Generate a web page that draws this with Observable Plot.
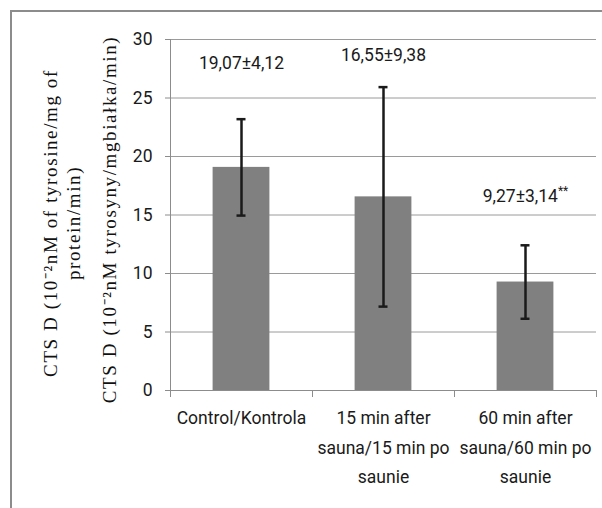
<!DOCTYPE html>
<html><head><meta charset="utf-8">
<script src="https://cdn.jsdelivr.net/npm/d3@7"></script>
<script src="https://cdn.jsdelivr.net/npm/@observablehq/plot@0.6"></script>
<style>
html,body{margin:0;padding:0;background:#fff;}
#wrap{position:relative;width:602px;height:508px;overflow:hidden;}
#border{position:absolute;left:10px;top:10px;width:700px;height:700px;border-top:2px solid #8c8c8c;border-left:2px solid #8c8c8c;pointer-events:none;}
</style></head><body><div id="wrap"><div id="border"></div></div>
<script>
// ---- data ----
const categories = ["Control/Kontrola", "15 min after\nsauna/15 min po\nsaunie", "60 min after\nsauna/60 min po\nsaunie"];
const means = [19.07, 16.55, 9.27];
const sds = [4.12, 9.38, 3.14];
const valueLabels = ["19,07±4,12", "16,55±9,38", "9,27±3,14**"];
const labelAt = [27.95, 28.6, 16.6];
const yTicks = [0, 5, 10, 15, 20, 25, 30];
const yTitleEn = "CTS D (10⁻²nM of tyrosine/mg of\nprotein/min)";
const yTitlePl = "CTS D (10⁻²nM tyrosyny/mgbiałka/min)";

// ---- font detection ----
function hasFont(name) {
  const c = document.createElement("canvas").getContext("2d");
  const s = "Control/Kontrola 0123456789";
  c.font = "40px monospace"; const w0 = c.measureText(s).width;
  c.font = `40px "${name}", monospace`; const w1 = c.measureText(s).width;
  return Math.abs(w0 - w1) > 0.5;
}
const narrow = hasFont("Liberation Sans Narrow");
const sans = narrow ? "'Liberation Sans Narrow'" : "Roboto";
const sansSize = narrow ? 20.5 : 17.5;
const serif = "'Liberation Serif', 'Times New Roman', serif";

const rows = categories.map((c, i) => ({
  c, i, mean: means[i], sd: sds[i],
  lo: means[i] - sds[i], hi: means[i] + sds[i],
  label: valueLabels[i], labelY: labelAt[i]
}));
const mid = d => d.i + 0.5;

const chart = Plot.plot({
  width: 602, height: 508,
  marginLeft: 170, marginRight: 6, marginTop: 39, marginBottom: 118,
  style: {fontFamily: sans, fontSize: sansSize + "px", color: "#1a1a1a", background: "transparent"},
  x: {domain: [0, categories.length], axis: null},
  y: {domain: [0, 30]},
  marks: [
    Plot.gridY(yTicks.filter(t => t > 0), {stroke: "#9a9a9a", strokeOpacity: 1}),
    Plot.rect(rows, {x1: d => d.i + 0.3, x2: d => d.i + 0.7, y1: 0, y2: "mean", fill: "#808080"}),
    Plot.ruleY([0], {stroke: "#8c8c8c"}),
    Plot.ruleX([0], {y1: 30, y2: 0, insetBottom: -7, stroke: "#8c8c8c"}),
    Plot.ruleX(d3.range(1, categories.length + 1), {y1: 0, y2: 0, insetBottom: -7, stroke: "#8c8c8c"}),
    Plot.axisY(yTicks, {tickSize: 5, tickPadding: 13, stroke: "#8c8c8c", fill: "#1a1a1a", label: null}),
    Plot.ruleX(rows, {x: mid, y1: "hi", y2: "lo", stroke: "#1a1a1a", strokeWidth: 2.5}),
    Plot.ruleY(rows, {x1: mid, x2: mid, y: "hi", insetLeft: -4.5, insetRight: -4.5, stroke: "#1a1a1a", strokeWidth: 2.5}),
    Plot.ruleY(rows, {x1: mid, x2: mid, y: "lo", insetLeft: -4.5, insetRight: -4.5, stroke: "#1a1a1a", strokeWidth: 2.5}),
    Plot.text(rows, {x: mid, y: "labelY", text: "label", fill: "#1a1a1a", lineAnchor: "middle"}),
    Plot.text(rows, {x: mid, y: 0, text: "c", fill: "#1a1a1a", lineAnchor: "top", dy: 13, lineHeight: 29.5 / sansSize}),
    Plot.text([yTitlePl], {text: d => d, frameAnchor: "left", textAnchor: "middle", rotate: -90, dx: -61, dy: 4.5,
      fontFamily: serif, fontSize: 19, fill: "#111", lineAnchor: "middle"}),
    Plot.text([yTitleEn], {text: d => d, frameAnchor: "left", textAnchor: "middle", rotate: -90, dx: -109.5, dy: 8,
      fontFamily: serif, fontSize: 19, fill: "#111", lineAnchor: "middle", lineHeight: 23 / 19})
  ]
});

// superscript stars and letter spacing for the serif titles
chart.querySelectorAll("text").forEach(t => {
  const s = t.textContent;
  if (t.childElementCount === 0 && s.endsWith("**")) {
    t.textContent = s.slice(0, -2);
    const ts = document.createElementNS("http://www.w3.org/2000/svg", "tspan");
    ts.textContent = "**";
    ts.setAttribute("font-size", "12");
    ts.setAttribute("dy", "-0.6em");
    t.appendChild(ts);
  }
  if (s.startsWith("CTS")) t.style.letterSpacing = "1.6px";
});
document.getElementById("wrap").prepend(chart);
</script>
</body></html>
